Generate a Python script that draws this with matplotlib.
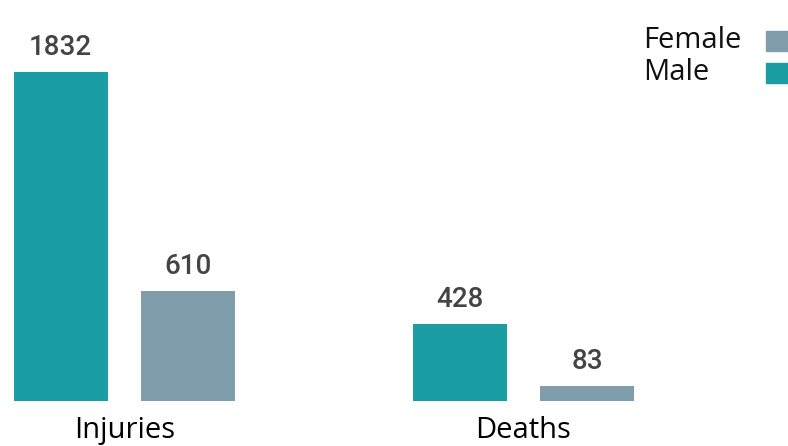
import numpy as np
import matplotlib.pyplot as plt
from matplotlib.patches import Rectangle

categories = ['Injuries', 'Deaths']
male = [1832, 428]
female = [610, 83]

teal = '#1a9ea3'
grey = '#809dab'

fig = plt.figure(figsize=(7.88, 4.46), dpi=100)
ax = fig.add_axes([0, 45 / 446, 1, 401 / 446])

x = np.arange(len(categories))
w = 0.235
off = 0.16

b_m = ax.bar(x - off, male, w, color=teal, label='Male')
b_f = ax.bar(x + off, female, w, color=grey, label='Female')

for bars in (b_m, b_f):
    for rect in bars:
        h = rect.get_height()
        ax.annotate(f'{h:.0f}', (rect.get_x() + rect.get_width() / 2, h),
                    xytext=(0, 18), textcoords='offset points',
                    ha='center', va='center', fontsize=20,
                    color='#444444', family='Roboto', fontweight='medium')

ax.set_xlim(-0.312, 1.663)
ax.set_ylim(0, 2233)
ax.set_xticks(x)
ax.set_xticklabels(categories, fontsize=21, family='Open Sans')
ax.tick_params(axis='x', length=0, pad=11)
ax.set_yticks([])
for s in ax.spines.values():
    s.set_visible(False)

# legend, text on the left and swatch on the right
leg = [('Female', grey, 41), ('Male', teal, 73)]
for name, col, yc in leg:
    fig.text(643 / 788, 1 - yc / 446, name, fontsize=21, family='Open Sans',
             ha='left', va='center', color='#111111')
    fig.patches.append(Rectangle((766 / 788, 1 - (yc + 10) / 446), 24 / 788, 20 / 446,
                                 transform=fig.transFigure, color=col))

fig.savefig('out.png', dpi=100)
